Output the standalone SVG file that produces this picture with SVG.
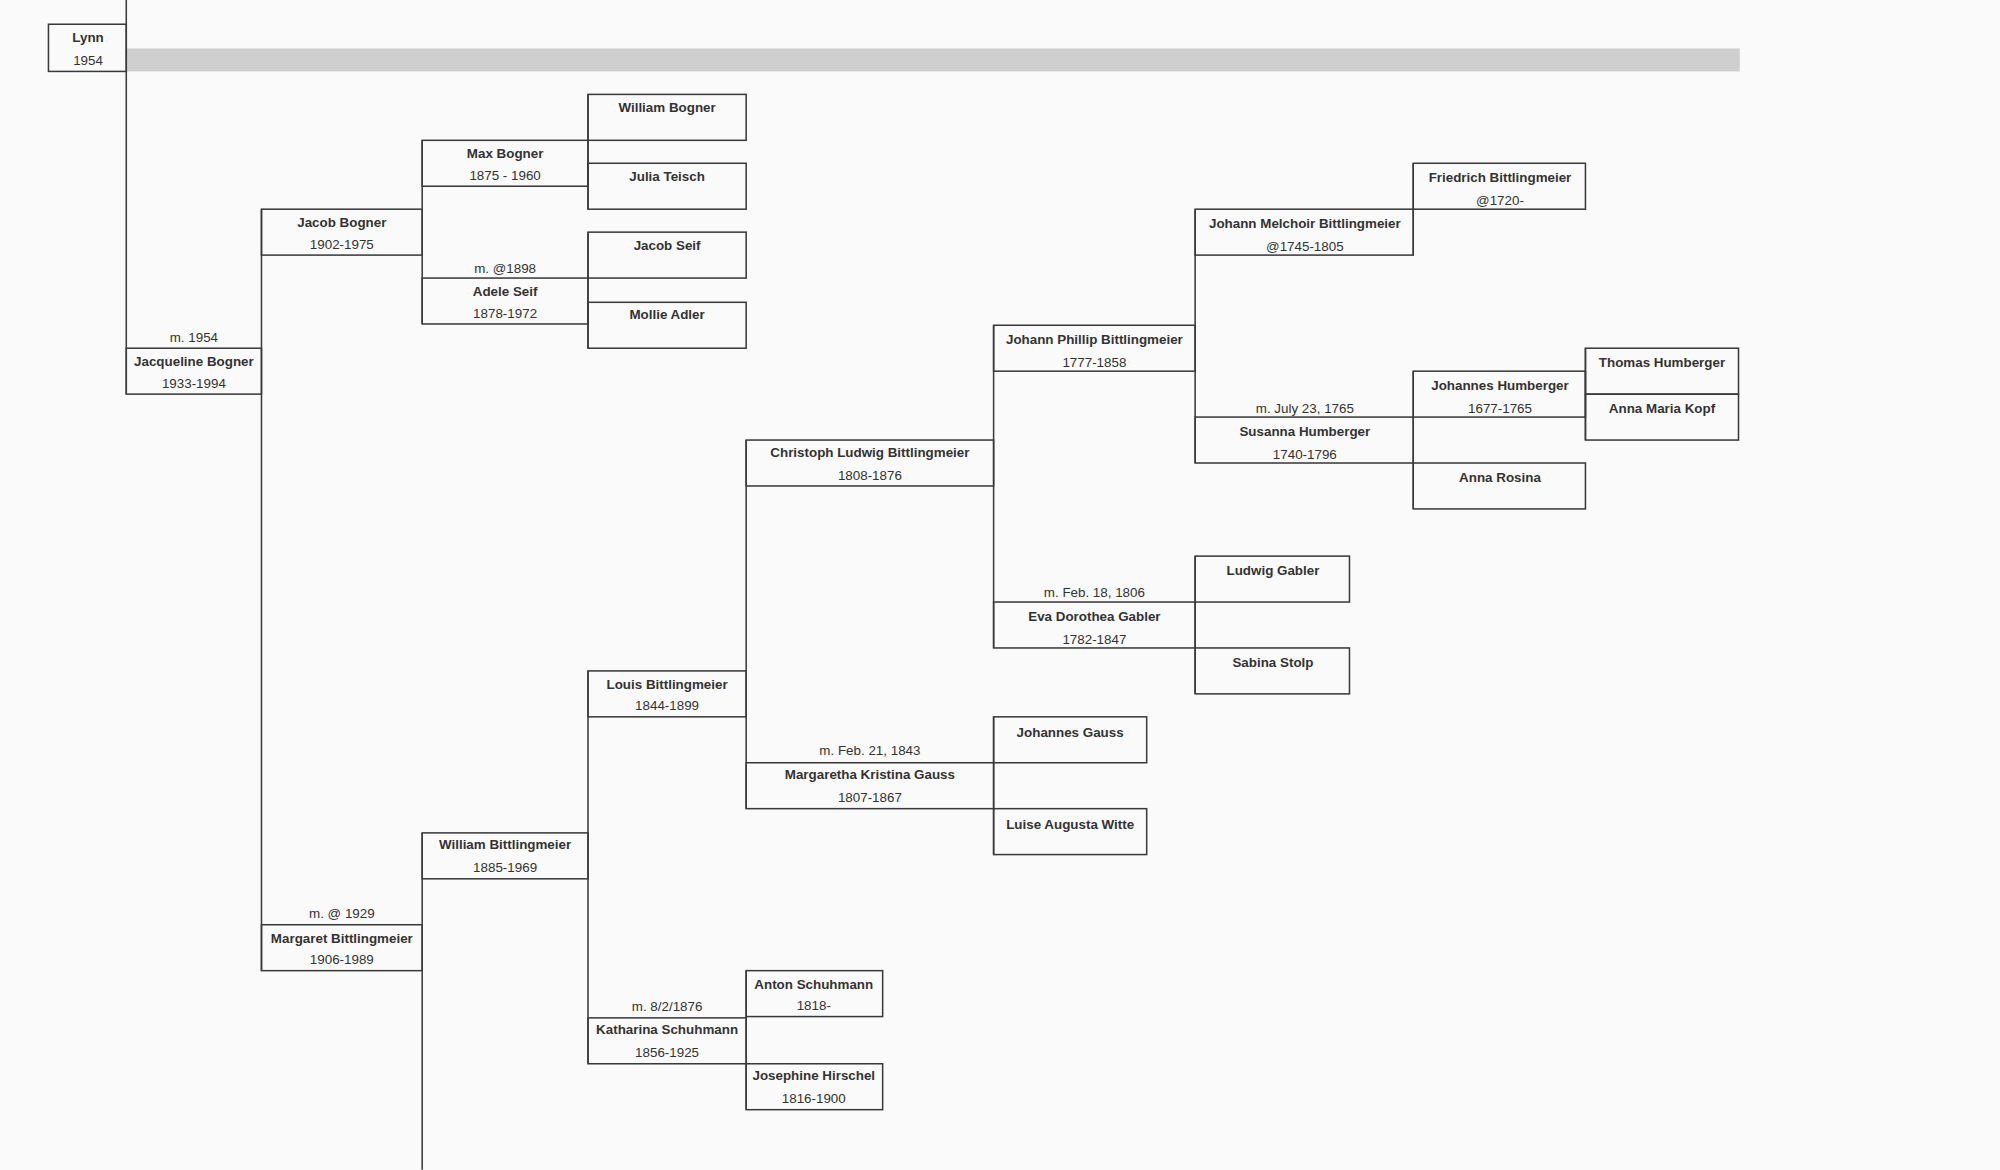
<svg xmlns="http://www.w3.org/2000/svg" width="2000" height="1170" viewBox="0 0 2000 1170">
<style>
.b{fill:none;stroke:#3a3a3a;stroke-width:1.2}
.c{stroke:#3a3a3a;stroke-width:1.2;fill:none}
.n{font-family:"Liberation Sans",Arial,sans-serif;font-size:10.5px;font-weight:bold;fill:#333;text-anchor:middle}
.d{font-family:"Liberation Sans",Arial,sans-serif;font-size:10.5px;fill:#333;text-anchor:middle}
</style>
<rect width="2000" height="1170" fill="#fafafa"/>
<g transform="scale(1.2755)">
<rect x="99" y="38" width="1265" height="18" fill="#cfcfcf"/>
<g id="connectors">
<path class="c" d="M99 0V309 M205 164V761 M331 110V254 M331 653V917 M461 74V164 M461 182V273 M461 526V834 M585 761V870 M585 345V634 M779 562V670 M779 255V508 M937 436V544 M937 164V363 M1108 128V200 M1108 291V399 M1243 273V345"/>
</g>
<g id="lynn"><rect class="b" x="38" y="19" width="61" height="37"/><text class="n" x="69" y="33">Lynn</text><text class="d" x="69" y="51">1954</text></g>
<g id="jacqueline"><rect class="b" x="99" y="273" width="106" height="36"/><text class="d" x="152" y="268">m. 1954</text><text class="n" x="152" y="287">Jacqueline Bogner</text><text class="d" x="152" y="304">1933-1994</text></g>
<g id="jacob"><rect class="b" x="205" y="164" width="126" height="36"/><text class="n" x="268" y="178">Jacob Bogner</text><text class="d" x="268" y="195">1902-1975</text></g>
<g id="margaret"><rect class="b" x="205" y="725" width="126" height="36"/><text class="d" x="268" y="720">m. @ 1929</text><text class="n" x="268" y="739">Margaret Bittlingmeier</text><text class="d" x="268" y="756">1906-1989</text></g>
<g id="max"><rect class="b" x="331" y="110" width="130" height="36"/><text class="n" x="396" y="124">Max Bogner</text><text class="d" x="396" y="141">1875 - 1960</text></g>
<g id="adele"><rect class="b" x="331" y="218" width="130" height="36"/><text class="d" x="396" y="214">m. @1898</text><text class="n" x="396" y="232">Adele Seif</text><text class="d" x="396" y="249">1878-1972</text></g>
<g id="williamb"><rect class="b" x="461" y="74" width="124" height="36"/><text class="n" x="523" y="88">William Bogner</text></g>
<g id="julia"><rect class="b" x="461" y="128" width="124" height="36"/><text class="n" x="523" y="142">Julia Teisch</text></g>
<g id="jacobseif"><rect class="b" x="461" y="182" width="124" height="36"/><text class="n" x="523" y="196">Jacob Seif</text></g>
<g id="mollie"><rect class="b" x="461" y="237" width="124" height="36"/><text class="n" x="523" y="250">Mollie Adler</text></g>
<g id="williambit"><rect class="b" x="331" y="653" width="130" height="36"/><text class="n" x="396" y="666">William Bittlingmeier</text><text class="d" x="396" y="684">1885-1969</text></g>
<g id="louis"><rect class="b" x="461" y="526" width="124" height="36"/><text class="n" x="523" y="540">Louis Bittlingmeier</text><text class="d" x="523" y="557">1844-1899</text></g>
<g id="katharina"><rect class="b" x="461" y="798" width="124" height="36"/><text class="d" x="523" y="793">m. 8/2/1876</text><text class="n" x="523" y="811">Katharina Schuhmann</text><text class="d" x="523" y="829">1856-1925</text></g>
<g id="anton"><rect class="b" x="585" y="761" width="107" height="36"/><text class="n" x="638" y="775">Anton Schuhmann</text><text class="d" x="638" y="792">1818-</text></g>
<g id="josephine"><rect class="b" x="585" y="834" width="107" height="36"/><text class="n" x="638" y="847">Josephine Hirschel</text><text class="d" x="638" y="865">1816-1900</text></g>
<g id="christoph"><rect class="b" x="585" y="345" width="194" height="36"/><text class="n" x="682" y="358">Christoph Ludwig Bittlingmeier</text><text class="d" x="682" y="376">1808-1876</text></g>
<g id="margaretha"><rect class="b" x="585" y="598" width="194" height="36"/><text class="d" x="682" y="592">m. Feb. 21, 1843</text><text class="n" x="682" y="611">Margaretha Kristina Gauss</text><text class="d" x="682" y="629">1807-1867</text></g>
<g id="johannesg"><rect class="b" x="779" y="562" width="120" height="36"/><text class="n" x="839" y="578">Johannes Gauss</text></g>
<g id="luise"><rect class="b" x="779" y="634" width="120" height="36"/><text class="n" x="839" y="650">Luise Augusta Witte</text></g>
<g id="johannphillip"><rect class="b" x="779" y="255" width="158" height="36"/><text class="n" x="858" y="270">Johann Phillip Bittlingmeier</text><text class="d" x="858" y="288">1777-1858</text></g>
<g id="eva"><rect class="b" x="779" y="472" width="158" height="36"/><text class="d" x="858" y="468">m. Feb. 18, 1806</text><text class="n" x="858" y="487">Eva Dorothea Gabler</text><text class="d" x="858" y="505">1782-1847</text></g>
<g id="ludwig"><rect class="b" x="937" y="436" width="121" height="36"/><text class="n" x="998" y="451">Ludwig Gabler</text></g>
<g id="sabina"><rect class="b" x="937" y="508" width="121" height="36"/><text class="n" x="998" y="523">Sabina Stolp</text></g>
<g id="melchoir"><rect class="b" x="937" y="164" width="171" height="36"/><text class="n" x="1023" y="179">Johann Melchoir Bittlingmeier</text><text class="d" x="1023" y="197">@1745-1805</text></g>
<g id="susanna"><rect class="b" x="937" y="327" width="171" height="36"/><text class="d" x="1023" y="324">m. July 23, 1765</text><text class="n" x="1023" y="342">Susanna Humberger</text><text class="d" x="1023" y="360">1740-1796</text></g>
<g id="friedrich"><rect class="b" x="1108" y="128" width="135" height="36"/><text class="n" x="1176" y="143">Friedrich Bittlingmeier</text><text class="d" x="1176" y="161">@1720-</text></g>
<g id="johannesh"><rect class="b" x="1108" y="291" width="135" height="36"/><text class="n" x="1176" y="306">Johannes Humberger</text><text class="d" x="1176" y="324">1677-1765</text></g>
<g id="annarosina"><rect class="b" x="1108" y="363" width="135" height="36"/><text class="n" x="1176" y="378">Anna Rosina</text></g>
<g id="thomas"><rect class="b" x="1243" y="273" width="120" height="36"/><text class="n" x="1303" y="288">Thomas Humberger</text></g>
<g id="annamaria"><rect class="b" x="1243" y="309" width="120" height="36"/><text class="n" x="1303" y="324">Anna Maria Kopf</text></g>
</g>
</svg>
